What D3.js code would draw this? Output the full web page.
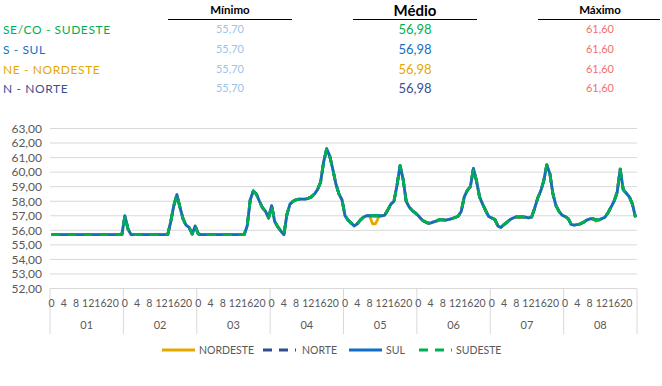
<!DOCTYPE html>
<html>
<head>
<meta charset="utf-8">
<script src="https://cdn.jsdelivr.net/npm/d3@7"></script>
<style>
  body { margin: 0; background: #fff; }
  svg { font-family: Lato, "Open Sans", sans-serif; }
</style>
</head>
<body>
<div id="chart"></div>
<script>
// ---- data ----
var days = ["01", "02", "03", "04", "05", "06", "07", "08"];
var hours = d3.range(24);
var hourTicks = [0, 4, 8, 12, 16, 20];
var yTicks = d3.range(52, 64);

var regionLabels = ["SE/CO - SUDESTE", "S - SUL", "NE - NORDESTE", "N - NORTE"];
var minimo = ["55,70", "55,70", "55,70", "55,70"];
var medio = ["56,98", "56,98", "56,98", "56,98"];
var maximo = ["61,60", "61,60", "61,60", "61,60"];

var sudeste = [
  55.7,55.7,55.7,55.7,55.7,55.7,55.7,55.7,55.7,55.7,55.7,55.7,55.7,55.7,55.7,55.7,55.7,55.7,55.7,55.7,55.7,55.7,55.7,55.7,
  57.0,56.1,55.7,55.7,55.7,55.7,55.7,55.7,55.7,55.7,55.7,55.7,55.7,55.7,55.7,56.6,57.7,58.45,57.6,56.8,56.35,56.2,55.75,56.3,
  55.75,55.7,55.7,55.7,55.7,55.7,55.7,55.7,55.7,55.7,55.7,55.7,55.7,55.7,55.7,55.7,56.3,58.1,58.7,58.5,58.0,57.55,57.3,56.85,
  57.7,56.6,56.25,55.95,55.7,57.1,57.8,58.0,58.1,58.15,58.15,58.15,58.2,58.3,58.5,58.8,59.3,60.7,61.6,61.1,60.2,59.2,58.5,58.1,
  57.0,56.7,56.5,56.3,56.45,56.7,56.9,57.0,57.0,57.0,57.0,57.0,57.0,57.05,57.4,57.8,58.0,59.1,60.45,59.5,58.0,57.6,57.35,57.2,
  57.0,56.75,56.6,56.5,56.5,56.58,56.65,56.74,56.72,56.7,56.76,56.81,56.88,56.97,57.3,58.3,58.75,59.0,60.25,59.4,58.3,57.8,57.35,56.95,
  56.85,56.75,56.3,56.2,56.4,56.55,56.75,56.85,56.92,56.92,56.92,56.9,56.85,56.9,57.5,58.2,58.7,59.4,60.5,59.9,58.5,57.7,57.3,57.04,
  56.95,56.8,56.4,56.35,56.4,56.45,56.55,56.7,56.78,56.8,56.72,56.72,56.8,56.9,57.2,57.6,58.0,58.6,60.2,58.8,58.55,58.3,57.8,56.9
];
var sul = [
  55.7,55.7,55.7,55.7,55.7,55.7,55.7,55.7,55.7,55.7,55.7,55.7,55.7,55.7,55.7,55.7,55.7,55.7,55.7,55.7,55.7,55.7,55.7,55.7,
  57.0,56.1,55.7,55.7,55.7,55.7,55.7,55.7,55.7,55.7,55.7,55.7,55.7,55.7,55.7,56.6,57.7,58.45,57.6,56.8,56.35,56.2,55.75,56.3,
  55.75,55.7,55.7,55.7,55.7,55.7,55.7,55.7,55.7,55.7,55.7,55.7,55.7,55.7,55.7,55.7,56.3,58.1,58.7,58.5,58.0,57.55,57.3,56.85,
  57.7,56.6,56.25,55.95,55.7,57.1,57.8,58.0,58.1,58.15,58.15,58.15,58.2,58.3,58.5,58.8,59.3,60.7,61.6,61.1,60.2,59.2,58.5,58.1,
  57.0,56.7,56.5,56.3,56.45,56.7,56.9,57.0,57.0,57.0,57.0,57.0,57.0,57.05,57.4,57.8,58.0,59.1,60.45,59.5,58.0,57.6,57.35,57.2,
  57.0,56.75,56.6,56.5,56.5,56.58,56.65,56.74,56.72,56.7,56.76,56.81,56.88,56.97,57.3,58.3,58.75,59.0,60.25,59.4,58.3,57.8,57.35,56.95,
  56.85,56.75,56.3,56.2,56.4,56.55,56.75,56.85,56.92,56.92,56.92,56.9,56.85,56.9,57.5,58.2,58.7,59.4,60.5,59.9,58.5,57.7,57.3,57.04,
  56.95,56.8,56.4,56.35,56.4,56.45,56.55,56.7,56.78,56.8,56.72,56.72,56.8,56.9,57.2,57.6,58.0,58.6,60.2,58.8,58.55,58.3,57.8,56.9
];
var norte = sul.slice(); // the two curves coincide in the reference
var nordeste = [
  55.7,55.7,55.7,55.7,55.7,55.7,55.7,55.7,55.7,55.7,55.7,55.7,55.7,55.7,55.7,55.7,55.7,55.7,55.7,55.7,55.7,55.7,55.7,55.7,
  57.0,56.1,55.7,55.7,55.7,55.7,55.7,55.7,55.7,55.7,55.7,55.7,55.7,55.7,55.7,56.6,57.7,58.45,57.6,56.8,56.35,56.2,55.75,56.3,
  55.75,55.7,55.7,55.7,55.7,55.7,55.7,55.7,55.7,55.7,55.7,55.7,55.7,55.7,55.7,55.7,56.3,58.1,58.7,58.5,58.0,57.55,57.3,56.85,
  57.7,56.6,56.25,55.95,55.7,57.1,57.8,58.0,58.1,58.15,58.15,58.15,58.2,58.3,58.5,58.8,59.3,60.7,61.6,61.1,60.2,59.2,58.5,58.1,
  57.0,56.7,56.5,56.3,56.45,56.7,56.9,57.0,57.0,56.45,56.45,56.9,57.0,57.05,57.4,57.8,58.0,59.1,60.45,59.5,58.0,57.6,57.35,57.2,
  57.0,56.75,56.6,56.5,56.5,56.58,56.65,56.74,56.72,56.7,56.76,56.81,56.88,56.97,57.3,58.3,58.75,59.0,60.25,59.4,58.3,57.8,57.35,56.95,
  56.85,56.75,56.3,56.2,56.4,56.55,56.75,56.85,56.92,56.86,56.92,56.9,56.85,56.9,57.5,58.2,58.7,59.4,60.5,59.9,58.5,57.7,57.3,57.04,
  56.95,56.8,56.4,56.35,56.4,56.45,56.55,56.7,56.78,56.8,56.62,56.72,56.8,56.9,57.2,57.6,58.0,58.6,60.2,58.8,58.55,58.3,57.8,56.9
];

var series = [
  {name: "NORDESTE", values: nordeste, color: "#e5a800", dash: null},
  {name: "NORTE", values: norte, color: "#2f4d93", dash: "9,7"},
  {name: "SUL", values: sul, color: "#0f6fc6", dash: null},
  {name: "SUDESTE", values: sudeste, color: "#00b050", dash: "9,7"}
];
var headerColors = ["#00b050", "#0f6fc6", "#e5a800", "#3a4f96"];

// ---- layout ----
var W = 662, H = 386;
var svg = d3.select("#chart").append("svg").attr("width", W).attr("height", H);

// header table
var head = svg.append("g");
var cols = [
  {title: "Mínimo", cx: 230, x0: 168, x1: 292, vals: minimo, size: 11, tsize: 11.5, ty: 14},
  {title: "Médio", cx: 415, x0: 353, x1: 477, vals: medio, size: 13, tsize: 15, ty: 16},
  {title: "Máximo", cx: 600, x0: 538, x1: 660, vals: maximo, size: 11, tsize: 11.5, ty: 14}
];
var rowY = [29.5, 49.5, 69.5, 88.5];

cols.forEach(function(c, ci) {
  head.append("text").attr("x", c.cx).attr("y", c.ty)
    .attr("text-anchor", "middle").attr("font-weight", "bold")
    .attr("font-size", c.tsize).attr("fill", "#000").text(c.title);
  head.append("line").attr("x1", c.x0).attr("x2", c.x1)
    .attr("y1", 19.5).attr("y2", 19.5).attr("stroke", "#000").attr("stroke-width", 1);
  head.selectAll(null).data(c.vals).enter().append("text")
    .attr("x", c.cx).attr("y", function(d, i) { return rowY[i]; })
    .attr("dy", "0.35em").attr("text-anchor", "middle")
    .attr("font-size", c.size)
    .attr("fill", function(d, i) {
      if (ci == 0) return "#9dc3e6";
      if (ci == 2) return "#f2716b";
      return headerColors[i];
    })
    .text(function(d) { return d; });
});
head.selectAll(".rl").data(regionLabels).enter().append("text")
  .attr("class", "rl")
  .attr("x", 3).attr("y", function(d, i) { return rowY[i]; })
  .attr("dy", "0.35em").attr("font-size", 12)
  .attr("letter-spacing", 0.6)
  .attr("fill", function(d, i) { return headerColors[i]; })
  .text(function(d) { return d; });

// chart
var cats = [];
days.forEach(function(d) { hours.forEach(function(h) { cats.push(d + "-" + h); }); });

var x = d3.scaleBand().domain(cats).range([50, 637]).padding(0);
var y = d3.scaleLinear().domain([52, 63]).range([288.5, 128.5]);

var grid = svg.append("g");
grid.selectAll("line").data(yTicks).enter().append("line")
  .attr("x1", 50).attr("x2", 637)
  .attr("y1", function(d) { return y(d); }).attr("y2", function(d) { return y(d); })
  .attr("stroke", "#d9d9d9").attr("stroke-width", 1);

var yAxis = svg.append("g").attr("transform", "translate(50,0)")
  .call(d3.axisLeft(y).tickValues(yTicks).tickSize(0).tickPadding(8)
    .tickFormat(function(d) { return d3.format(".2f")(d).replace(".", ","); }));
yAxis.select(".domain").remove();
yAxis.selectAll("text").attr("font-size", 12).attr("fill", "#595959")
  .attr("font-family", "Lato, sans-serif");

// x axis: hour ticks + day groups
var dayWidth = x.bandwidth() * 24;
var xg = svg.append("g");
var sep = d3.range(days.length + 1);
xg.selectAll("line").data(sep).enter().append("line")
  .attr("x1", function(i) { return 50 + i * dayWidth; })
  .attr("x2", function(i) { return 50 + i * dayWidth; })
  .attr("y1", 288.5).attr("y2", 334)
  .attr("stroke", "#d9d9d9").attr("stroke-width", 1);

days.forEach(function(d) {
  xg.selectAll(null).data(hourTicks).enter().append("text")
    .attr("x", function(h) { return x(d + "-" + h) + x.bandwidth() / 2; })
    .attr("y", 303).attr("dy", "0.35em").attr("text-anchor", "middle")
    .attr("font-size", 10.5).attr("fill", "#595959")
    .text(function(h) { return h; });
});
xg.selectAll(".day").data(days).enter().append("text")
  .attr("class", "day")
  .attr("x", function(d) { return x(d + "-0") + dayWidth / 2; })
  .attr("y", 325).attr("dy", "0.35em").attr("text-anchor", "middle")
  .attr("font-size", 11).attr("fill", "#595959")
  .text(function(d) { return d; });

// lines
var line = d3.line()
  .x(function(d, i) { return x(cats[i]) + x.bandwidth() / 2; })
  .y(function(d) { return y(d); });

svg.append("g").selectAll("path").data(series).enter().append("path")
  .attr("d", function(s) { return line(s.values); })
  .attr("fill", "none")
  .attr("stroke", function(s) { return s.color; })
  .attr("stroke-width", 2.8)
  .attr("stroke-dasharray", function(s) { return s.dash; })
  .attr("stroke-linejoin", "round");

// legend
var legPos = [
  {lx: 162, tx: 199},
  {lx: 263, tx: 302},
  {lx: 349, tx: 386},
  {lx: 419, tx: 456}
];
var leg = svg.append("g").selectAll("g").data(series).enter().append("g");
leg.append("line")
  .attr("x1", function(s, i) { return legPos[i].lx; })
  .attr("x2", function(s, i) { return legPos[i].lx + 33; })
  .attr("y1", 350).attr("y2", 350)
  .attr("stroke", function(s) { return s.color; })
  .attr("stroke-width", 2.8)
  .attr("stroke-dasharray", function(s) { return s.dash; });
leg.append("text")
  .attr("x", function(s, i) { return legPos[i].tx; })
  .attr("y", 350).attr("dy", "0.35em")
  .attr("font-size", 10.5).attr("fill", "#595959")
  .text(function(s) { return s.name; });
</script>
</body>
</html>
